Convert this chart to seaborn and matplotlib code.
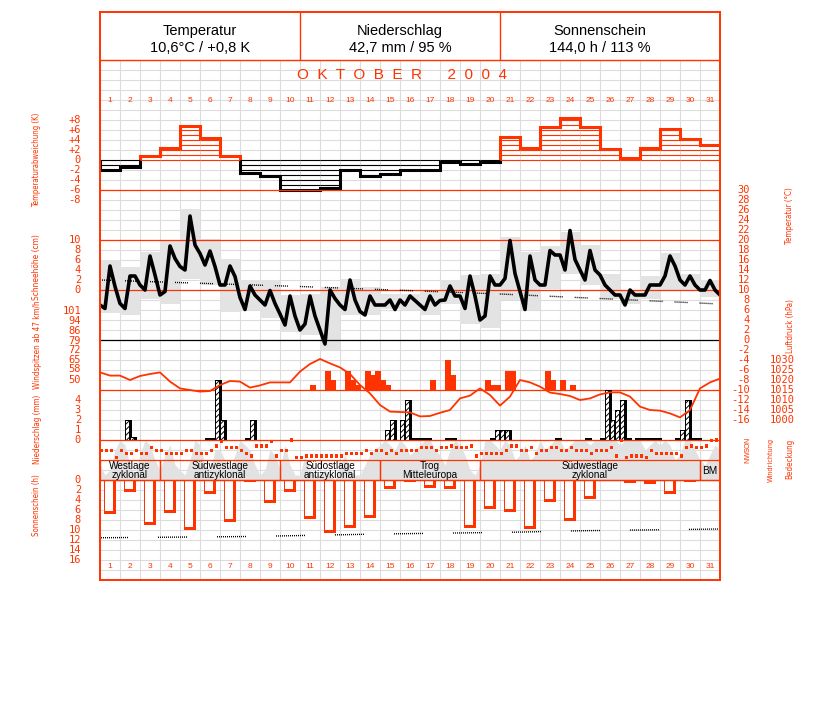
import numpy as np
import pandas as pd
import matplotlib
matplotlib.use("Agg")
import matplotlib.pyplot as plt
import matplotlib.transforms as mtransforms
from matplotlib import font_manager as fm
import seaborn as sns

sns.set_style("white")
plt.rcParams["font.family"] = ["Liberation Sans", "DejaVu Sans"]
plt.rcParams["lines.scale_dashes"] = False
plt.rcParams["hatch.linewidth"] = 0.7

RED = "#ff3300"
GRAY = "#e2e2e2"

# ---------------------------------------------------------------- data
DAYS = list(range(1, 32))

header_titles = ["Temperatur", "Niederschlag", "Sonnenschein"]
header_values = ["10,6°C / +0,8 K", "42,7 mm / 95 %", "144,0 h / 113 %"]
month_title = "O  K  T  O  B  E  R      2  0  0  4"

# daily temperature anomaly (K)
temp_anom = [-2.0, -1.3, 0.8, 2.5, 6.9, 4.5, 0.8, -2.5, -3.2, -5.9, -5.9, -5.5, -1.9,
             -3.2, -2.7, -2.0, -2.0, -0.3, -0.7, -0.3, 4.7, 2.5, 6.7, 8.5, 6.7, 2.3,
             0.5, 2.5, 6.2, 4.3, 3.1]

# 6-hourly temperature (°C), t = 0 .. 31 days
temp_6h = [7.0, 6.3, 14.8, 10.7, 7.3, 6.3, 12.8, 12.8, 11.0, 10.0, 16.8, 13.0,
           9.0, 9.7, 18.8, 16.3, 14.7, 14.0, 24.8, 19.0, 17.3, 15.0, 17.8, 14.7,
           11.0, 11.0, 14.8, 12.7, 8.5, 6.1, 10.8, 9.0, 8.0, 7.0, 9.9, 7.3,
           5.2, 3.0, 8.8, 4.8, 2.0, 3.2, 8.8, 4.8, 2.0, -0.8, 10.0, 8.3,
           7.0, 6.1, 12.0, 8.0, 5.7, 5.0, 8.8, 7.0, 7.0, 7.0, 8.0, 6.1,
           8.0, 7.0, 8.8, 7.9, 7.0,
           6.1, 8.8, 7.0, 7.9, 8.0, 10.8, 8.8, 8.8, 6.3, 12.8, 8.8,
           4.0, 4.8, 12.8, 11.0, 11.0, 12.3, 19.9, 13.3, 9.7, 6.1, 16.8, 12.0,
           11.0, 11.0, 17.9, 17.0, 17.0, 14.0, 21.9, 16.1, 14.0, 12.0, 17.9, 14.0,
           13.0, 11.0, 10.0, 9.0, 9.0, 7.0, 10.0, 9.0, 9.0, 9.0, 11.0, 11.0,
           11.0, 12.8, 16.8, 14.8, 12.0, 11.0, 12.8, 11.0, 10.0, 10.0, 11.9, 10.0,
           9.0]

# daily max / min temperature (°C)
temp_max = [16.0, 14.7, 17.7, 20.0, 26.3, 20.3, 16.3, 12.0, 12.0, 9.0, 9.3, 10.7, 12.3,
            10.7, 9.3, 9.3, 10.0, 12.0, 13.0, 13.3, 20.7, 17.7, 18.8, 21.7, 19.0, 13.3,
            10.0, 12.8, 17.5, 13.3, 12.1]
temp_min = [5.5, 5.0, 8.3, 7.3, 12.3, 11.0, 5.7, 6.0, 4.5, 1.7, 1.0, -1.9, 5.0,
            5.0, 6.3, 6.0, 5.0, 7.3, 3.3, 2.5, 8.0, 6.0, 10.3, 13.3, 11.0, 8.3,
            7.3, 8.3, 10.0, 10.0, 8.7]

# climatological mean temperature (°C)
clim_t = [0, 10, 20, 31]
clim_temp = [12.0, 10.7, 9.2, 7.2]

# 12-hourly air pressure (hPa)
pressure_12h = [1023.8, 1022.2, 1022.2, 1020.0, 1022.0, 1023.0, 1023.8, 1019.2, 1015.8,
                1015.0, 1014.2, 1014.5, 1017.5, 1019.5, 1019.2, 1016.2, 1017.3, 1018.8,
                1018.8, 1018.8, 1024.2, 1028.0, 1030.5, 1028.3, 1026.3, 1023.0, 1017.5,
                1013.3, 1007.5, 1004.2, 1004.0, 1003.8, 1001.8, 1002.0, 1003.6, 1005.0,
                1010.8, 1012.2, 1015.8, 1012.5, 1007.2, 1011.7, 1020.0, 1018.8, 1016.7,
                1013.7, 1013.0, 1012.0, 1010.0, 1010.8, 1012.8, 1013.8, 1013.8, 1011.7,
                1006.7, 1005.0, 1004.7, 1003.3, 1001.3, 1005.0, 1015.8, 1018.8, 1020.7]

# wind gusts (km/h) per 6-hour term: day, quarter (0..3), value
gust_day = [11, 12, 12, 13, 13, 13, 14, 14, 14, 15, 15, 17, 18, 18, 20, 20, 20, 21, 21, 23, 23, 24, 24]
gust_q = [2, 1, 2, 1, 2, 3, 1, 2, 3, 0, 1, 2, 1, 2, 1, 2, 3, 1, 2, 1, 2, 0, 2]
gust_kmh = [46, 57, 50, 57, 50, 46, 57, 54, 57, 50, 46, 50, 65, 54, 50, 46, 46, 57, 57, 57, 50, 50, 46]
GUST_BASE = 42.6
gust_ticks = [101, 94, 86, 79, 72, 65, 58, 50]

# precipitation (mm) per 6-hour term
prec_day = [2, 2, 6, 6, 6, 7, 8, 8, 15, 15, 16, 16, 16, 16, 17, 17, 18, 18, 20, 20, 21, 21,
            23, 25, 26, 26, 26, 26, 27, 27, 27, 28, 28, 28, 28, 29, 30, 30, 30, 30]
prec_q = [1, 2, 1, 2, 3, 0, 1, 2, 1, 2, 0, 1, 2, 3, 0, 1, 1, 2, 2, 3, 0, 1,
          3, 1, 0, 1, 2, 3, 0, 1, 3, 0, 1, 2, 3, 3, 0, 1, 2, 3]
prec_mm = [2.0, 0.3, 0.2, 0.2, 6.0, 2.0, 0.2, 2.0, 1.0, 2.0, 2.0, 4.0, 0.2, 0.2, 0.2, 0.2, 0.2, 0.2, 0.2, 1.0, 1.0, 1.0,
           0.2, 0.2, 0.2, 5.0, 2.0, 3.0, 4.0, 0.2, 0.2, 0.2, 0.2, 0.2, 0.2, 0.2, 1.0, 4.0, 0.2, 0.2]

# daily sunshine (h)
sun_hours = [6.8, 2.3, 9.0, 6.5, 10.0, 2.8, 8.3, 0.3, 4.5, 2.3, 7.7, 10.5, 9.5, 7.5, 1.7,
             0.3, 1.5, 1.7, 9.5, 5.7, 6.3, 9.7, 4.3, 8.2, 3.7, 0.0, 0.5, 0.7, 2.8, 0.3, 0.0]
# astronomically possible sunshine (h)
sunmax_t = [0, 7.5, 14, 20.6, 24, 31]
sunmax_h = [11.55, 11.3, 10.8, 10.45, 10.15, 9.8]

# cloud cover (octas), 6-hourly, t = 0 .. 31
cloud_6h = [3, 1, 2, 6, 8, 7, 3, 1, 5, 8, 7, 4, 2, 5, 7, 3, 2, 1, 4, 8, 7, 3, 2, 6,
            6, 4, 2, 5, 8, 7, 6, 3, 1, 2, 6, 5, 2, 7, 3, 1, 1, 5, 2, 1, 1, 2, 1, 0,
            3, 5, 2, 1, 1, 3, 5, 6, 7, 8, 7, 6, 8, 7, 5, 6, 7, 8, 8, 6, 5, 3, 6, 8,
            7, 5, 2, 1, 3, 8, 8, 7, 6, 8, 7, 4, 5, 7, 4, 5, 8, 6, 7, 8, 8, 6, 7, 8,
            8, 8, 7, 8, 8, 8, 8, 8, 7, 8, 8, 8, 8, 6, 7, 8, 7, 8, 7, 4, 5, 8, 8, 6,
            4, 3, 5, 7, 6]

# wind direction (degrees, N at top of scale), 6-hourly
wind_dir = [192, 192, 192, 312, 192, 240, 240, 192, 240, 240, 132, 192, 192, 240, 240, 240,
            240, 192, 192, 240, 240, 240, 192, 108, 30, 132, 132, 132, 192, 240, 288, 108,
            108, 108, 30, 288, 192, 192, 0, 312, 312, 288, 288, 288, 288, 288, 288, 288,
            288, 240, 240, 240, 240, 192, 240, 192, 192, 240, 192, 240, 192, 192, 192, 192,
            132, 132, 132, 192, 132, 132, 108, 132, 132, 132, 108, 288, 240, 240, 240, 240,
            240, 192, 108, 108, 192, 192, 132, 240, 192, 192, 132, 132, 192, 192, 132, 192,
            192, 192, 240, 192, 192, 192, 132, 288, 12, 312, 288, 288, 288, 312, 192, 240,
            240, 240, 240, 240, 288, 132, 108, 132, 132, 108, 12, 0]
wdir_labels = ["N", "O", "S", "W", "N"]
wdir_values = [0, 90, 180, 270, 360]

# weather types (Großwetterlagen)
wt_labels = ["Westlage\nzyklonal", "Südwestlage\nantizyklonal", "Südostlage\nantizyklonal",
             "Trog\nMitteleuropa", "Südwestlage\nzyklonal", "BM"]
wt_first = [1, 4, 10, 15, 20, 31]
wt_last = [3, 9, 14, 19, 30, 31]

# axis titles: text, centre x, centre y (pixels), length in pixels
axis_titles = [("Temperaturabweichung (K)", 37, 160, 94), ("Schneehöhe (cm)", 37, 267, 66),
               ("Windspitzen ab 47 km/h", 37, 345, 88), ("Niederschlag (mm)", 37, 429, 69),
               ("Sonnenschein (h)", 37, 505, 62), ("Temperatur (°C)", 790, 216, 57),
               ("Luftdruck (hPa)", 790, 326, 54), ("Windrichtung", 771, 460, 44),
               ("Bedeckung", 790, 459, 40)]

# ---------------------------------------------------------------- fonts
def pick_narrow():
    fallback = None
    for f in fm.fontManager.ttflist:
        nm = f.name
        st = str(f.stretch).lower()
        regular = f.style == "normal" and str(f.weight).lower() in ("400", "normal", "regular", "book")
        if not regular:
            continue
        if "Narrow" in nm and "Liberation" in nm:
            return fm.FontProperties(fname=f.fname)
        if fallback is None and ("condensed" in st or "Condensed" in nm):
            fallback = fm.FontProperties(fname=f.fname)
    return fallback if fallback is not None else fm.FontProperties(family="Liberation Sans")


NARROW_FP = pick_narrow()

# ---------------------------------------------------------------- layout
W, H = 827, 702
fig = plt.figure(figsize=(W / 100, H / 100), dpi=100)
fig.patch.set_facecolor("white")
X0, X1, Y0, Y1 = 100, 720, 60, 580


def frect(x0, y0, x1, y1):
    return [x0 / W, 1 - y1 / H, (x1 - x0) / W, (y1 - y0) / H]


MAIN = frect(X0, Y0, X1, Y1)


def span(v_ref, y_ref, ppu):
    """value limits (bottom, top) so that v_ref sits at pixel row y_ref, ppu px per unit"""
    top = v_ref + (y_ref - Y0) / ppu
    bot = v_ref - (Y1 - y_ref) / ppu
    return bot, top


def layer(name, lims, z):
    a = fig.add_axes(MAIN, label=name, zorder=z)
    a.set_xlim(0, 31)
    a.set_ylim(*lims)
    a.axis("off")
    return a


def dot_runs(run_px, gap_px):
    pt = 0.72
    seq = []
    for _ in range(max(1, run_px // 2)):
        seq += [pt, pt]
    seq[-1] = gap_px * pt
    return seq


TICKFONT = dict(color=RED, fontsize=7.5, family=["DejaVu Sans Mono", "DejaVu Sans"])


def side_labels(a, vals, labs, xpix, ha):
    tr = mtransforms.blended_transform_factory(fig.transFigure, a.transData)
    for v, l in zip(vals, labs):
        a.text(xpix / W, v, l, transform=tr, ha=ha, va="center", clip_on=False, **TICKFONT)


# base grid (pixel rows)
base = fig.add_axes(MAIN, label="base", zorder=0)
base.set_xlim(0, 31)
base.set_ylim(Y1, Y0)
base.set_xticks(range(32))
base.set_yticks(range(Y0, Y1 + 1, 10))
base.tick_params(length=0, labelbottom=False, labelleft=False)
base.grid(True, color="#dcdcdc", lw=0.8)
for s in base.spines.values():
    s.set_visible(False)

# cloud cover
t6 = np.arange(len(cloud_6h)) * 0.25
ax_c = layer("cloud", span(0, 480, 5), 1)
ax_c.fill_between(t6, 0, cloud_6h, color=GRAY, lw=0)

# temperature anomaly
ax_a = layer("anom", span(0, 160, 5), 2)
anom = np.array(temp_anom)
for i, v in enumerate(anom):
    col = RED if v > 0 else "black"
    sgn = 1 if v > 0 else -1
    levels = np.arange(0, int(np.floor(abs(v))) + 1) * sgn
    ax_a.hlines(levels, i, i + 1, color=col, lw=0.8)
edges = np.arange(32)
i = 0
while i < 31:
    pos = anom[i] > 0
    j = i
    while j < 31 and (anom[j] > 0) == pos:
        j += 1
    ax_a.stairs(anom[i:j], edges[i:j + 1], baseline=0, color=RED if pos else "black", lw=2.2)
    i = j
side_labels(ax_a, [8, 6, 4, 2, 0, -2, -4, -6, -8],
            ["+8", "+6", "+4", "+2", "0", "-2", "-4", "-6", "-8"], 81, "right")

# snow axis (labels only)
ax_snow = layer("snow", span(0, 290, 5), 2)
side_labels(ax_snow, [10, 8, 6, 4, 2, 0], ["10", "8", "6", "4", "2", "0"], 81, "right")

# temperature
ax_t = layer("temp", span(0, 340, 5), 3)
dd = np.array(DAYS)
ax_t.bar(dd - 0.5, np.array(temp_max) - np.array(temp_min), bottom=temp_min, width=1.0,
         color="#e3e3e3", lw=0, zorder=1)
for v in [30, 20, 10]:
    ax_t.axhline(v, color=RED, lw=0.9, zorder=2)
ax_t.axhline(0, color="black", lw=0.9, zorder=2)
ax_t.plot(clim_t, clim_temp, color="black", lw=1.0, linestyle=(0, dot_runs(14, 12)), zorder=3)
temp_df = pd.DataFrame({"t": np.arange(len(temp_6h)) * 0.25, "T": temp_6h})
sns.lineplot(data=temp_df, x="t", y="T", ax=ax_t, color="black", linewidth=2.6, zorder=4)
ax_t.axis("off")
side_labels(ax_t, list(range(30, -17, -2)), [str(v) for v in range(30, -17, -2)], 750, "right")

# wind gusts
ax_w = layer("gust", span(GUST_BASE, 390, 2.5 / 1.852), 2)
gx = np.array(gust_day) - 1 + np.array(gust_q) * 0.25
ax_w.bar(gx, np.array(gust_kmh) - GUST_BASE, bottom=GUST_BASE, width=0.28, align="edge",
         color=RED, lw=0)
ax_w.axhline(GUST_BASE, color=RED, lw=0.9)
side_labels(ax_w, gust_ticks, [str(v) for v in gust_ticks], 81, "right")

# precipitation
ax_r = layer("prec", span(0, 440, 10), 4)
px = np.array(prec_day) - 1 + np.array(prec_q) * 0.25
pm = np.array(prec_mm)
for x, m in zip(px, pm):
    ax_r.bar(x, m, width=0.33, align="edge", color="black", lw=0)
    if m > 0.25:
        ax_r.bar(x + 0.05, m - 0.1, width=0.15, align="edge", facecolor="white",
                 edgecolor="black", hatch="//////", lw=0)
ax_r.axhline(0, color=RED, lw=0.9)
side_labels(ax_r, [4, 3, 2, 1, 0], ["4", "3", "2", "1", "0"], 81, "right")

# pressure
ax_p = layer("pres", span(1015, 390, 2), 5)
pres_df = pd.DataFrame({"t": np.arange(len(pressure_12h)) * 0.5, "p": pressure_12h})
sns.lineplot(data=pres_df, x="t", y="p", ax=ax_p, color=RED, linewidth=1.3)
ax_p.axis("off")
pt_ = [1030, 1025, 1020, 1015, 1010, 1005, 1000]
side_labels(ax_p, pt_, [str(v) for v in pt_], 795, "right")

# wind direction (0 deg at top of the strip)
ax_d = layer("wdir", span(0, 440, -1 / 18), 6)
wd_df = pd.DataFrame({"t": np.arange(len(wind_dir)) * 0.25 + 0.08, "d": wind_dir})
sns.scatterplot(data=wd_df, x="t", y="d", ax=ax_d, marker="s", s=5, color=RED,
                edgecolor="none", linewidth=0)
ax_d.axis("off")
tr = mtransforms.blended_transform_factory(fig.transFigure, ax_d.transData)
for v, l in zip(wdir_values, wdir_labels):
    ax_d.text(748 / W, v, l, transform=tr, rotation=90, ha="center", va="center",
              color=RED, fontsize=5, clip_on=False)

# sunshine
ax_s = layer("sun", span(0, 480, -5), 3)
sx = np.array(DAYS) - 1
sh = np.array(sun_hours)
ax_s.bar(sx + 0.2, sh, width=0.6, align="edge", color=RED, lw=0)
ax_s.bar(sx + 0.25, np.clip(sh - 0.6, 0, None), width=0.4, align="edge", color="white", lw=0)
ax_s.axhline(0, color=RED, lw=0.9)
ax_s.plot(sunmax_t, sunmax_h, color="black", lw=1.0,
          linestyle=(43.2, dot_runs(30, 30)))
side_labels(ax_s, list(range(0, 17, 2)), [str(v) for v in range(0, 17, 2)], 81, "right")

# weather-type band and day numbers (pixel rows)
ax_b = layer("band", (Y1, Y0), 7)
for lab, a0, a1 in zip(wt_labels, wt_first, wt_last):
    ax_b.add_patch(plt.Rectangle((a0 - 1, 460), a1 - a0 + 1, 20, fill=False, ec=RED, lw=0.9))
    ax_b.text((a0 - 1 + a1) / 2, 470.5, lab, ha="center", va="center", fontsize=7.2,
              linespacing=0.9, color="black")
for d in DAYS:
    ax_b.text(d - 0.5, 100, str(d), ha="center", va="center", color=RED, fontsize=6)
    ax_b.text(d - 0.5, 566, str(d), ha="center", va="center", color=RED, fontsize=6)
ax_b.text(15.1, 75, month_title, ha="center", va="center", color=RED, fontsize=11)

# frame and header
fr = fig.add_axes(frect(X0, 12, X1, Y1), label="frame", zorder=8)
fr.set_xlim(0, 31)
fr.set_ylim(Y1, 12)
fr.set_xticks([])
fr.set_yticks([])
fr.patch.set_visible(False)
for s in fr.spines.values():
    s.set_color(RED)
    s.set_linewidth(1.4)
fr.axhline(Y0, color=RED, lw=1.0)
fr.vlines([10, 20], 12, Y0, color=RED, lw=1.0)
for k, (ttl, val) in enumerate(zip(header_titles, header_values)):
    fr.text(5 + 10 * k, 31, ttl, ha="center", va="center", fontsize=10.5, color="black")
    fr.text(5 + 10 * k, 48, val, ha="center", va="center", fontsize=10.5, color="black")

# axis titles, sized to the reference lengths
renderer = fig.canvas.get_renderer()
for txt, x, y, L in axis_titles:
    t = fig.text(x / W, 1 - y / H, txt, color=RED, fontproperties=NARROW_FP.copy(),
                 rotation=90, ha="center", va="center")
    t.set_fontsize(8)
    ext = t.get_window_extent(renderer)
    t.set_fontsize(8 * L / max(ext.height, 1))

fig.savefig("out.png", dpi=100)
